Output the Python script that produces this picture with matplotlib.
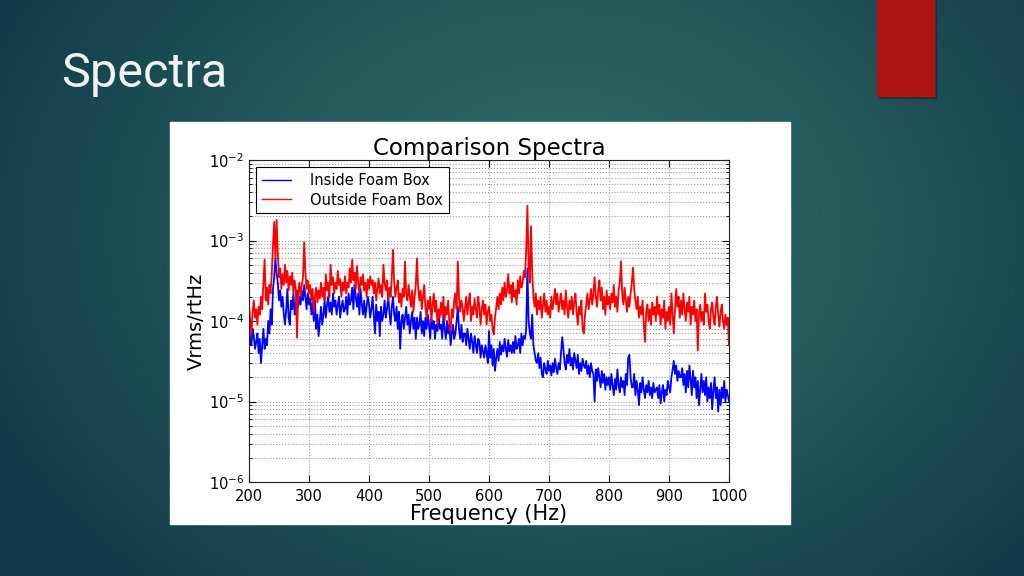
import numpy as np
import matplotlib
matplotlib.use('Agg')
import matplotlib.pyplot as plt
from matplotlib.patches import Rectangle

# frequency axis (Hz), one sample every 2 Hz
freq = np.arange(200, 1001, 2)

# amplitudes, in units of 1e-5 Vrms/rtHz
outside = [
    16, 10, 7, 13, 18, 11, 14, 9, 15, 12,
    20, 14, 30, 58, 18, 26, 16, 28, 22, 40,
    90, 170, 60, 180, 70, 35, 45, 25, 38, 28,
    50, 30, 42, 24, 36, 28, 40, 22, 32, 25,
    6.2, 22, 30, 20, 28, 35, 95, 40, 25, 32,
    22, 28, 18, 25, 13, 20, 26, 17, 24, 19,
    30, 20, 26, 18, 38, 24, 30, 20, 50, 28,
    35, 22, 30, 25, 42, 28, 33, 20, 30, 24,
    36, 22, 30, 26, 45, 30, 58, 32, 40, 25,
    48, 30, 22, 35, 28, 38, 24, 30, 20, 33,
    25, 36, 28, 32, 22, 30, 18, 26, 34, 22,
    28, 20, 50, 30, 24, 32, 18, 26, 20, 35,
    77, 30, 20, 26, 32, 17, 22, 15, 25, 20,
    55, 22, 18, 28, 20, 15, 24, 13, 20, 28,
    60, 25, 18, 24, 14, 20, 28, 15, 11, 18,
    14, 20, 10, 16, 22, 13, 18, 9, 14, 11,
    17, 12, 20, 10, 15, 12, 18, 9, 7.5, 14,
    11, 18, 22, 14, 55, 20, 13, 18, 15, 10,
    14, 20, 12, 17, 22, 10, 15, 12, 19, 14,
    11, 20, 15, 9, 14, 18, 12, 16, 9, 13,
    15, 10, 12, 8, 6.8, 11, 15, 20, 14, 22,
    16, 26, 18, 30, 20, 24, 38, 22, 28, 17,
    30, 20, 24, 16, 32, 22, 36, 26, 30, 42,
    35, 80, 270, 50, 30, 150, 40, 20, 15, 22,
    12, 18, 14, 20, 11, 16, 22, 13, 18, 12,
    15, 11, 20, 14, 18, 25, 16, 22, 13, 17,
    22, 14, 18, 12, 24, 15, 11, 18, 14, 20,
    12, 17, 22, 13, 9, 15, 12, 18, 8, 7,
    12, 16, 22, 14, 18, 25, 16, 22, 35, 20,
    15, 24, 32, 18, 26, 14, 20, 12, 24, 16,
    20, 14, 22, 17, 28, 15, 20, 13, 24, 30,
    55, 22, 16, 26, 18, 13, 20, 15, 22, 30,
    46, 25, 18, 14, 20, 11, 15, 12, 18, 9,
    5.5, 13, 16, 10, 14, 9, 17, 12, 15, 10,
    20, 12, 16, 9, 14, 11, 18, 8, 13, 10,
    15, 9, 22, 12, 7, 14, 25, 15, 20, 11,
    18, 12, 22, 14, 10, 17, 13, 20, 9, 15,
    12, 18, 10, 14, 4.3, 12, 16, 10, 13, 9,
    22, 13, 16, 10, 8, 14, 17, 11, 9, 15,
    20, 12, 8.5, 13, 16, 10, 8, 12, 9, 11,
    5,
]
inside = [
    9, 6, 5, 8, 6.5, 4.5, 5.5, 7, 4, 6,
    3, 5, 8, 4.5, 6, 5, 10, 7, 14, 9,
    25, 35, 60, 40, 30, 18, 24, 15, 20, 12,
    9, 14, 25, 11, 9, 18, 14, 22, 12, 16,
    24, 15, 20, 16, 24, 18, 28, 20, 14, 22,
    16, 19, 12, 17, 10, 18, 8, 12, 6.5, 10,
    15, 9, 12, 18, 11, 16, 20, 13, 17, 12,
    22, 15, 18, 12, 16, 20, 11, 15, 18, 13,
    14, 20, 12, 22, 16, 18, 26, 14, 28, 20,
    15, 22, 12, 25, 16, 12, 18, 11, 15, 20,
    16, 11, 14, 20, 12, 7, 16, 10, 13, 6.5,
    15, 10, 12, 18, 11, 14, 20, 13, 9, 15,
    20, 12, 10, 15, 8, 13, 4.5, 10, 12, 8,
    11, 15, 9, 12, 7, 10, 13, 8, 11, 6,
    11, 8, 9, 13, 7, 10, 6.5, 11, 8, 12,
    9, 6, 11, 8, 10, 6, 9, 7.5, 12, 8,
    9, 6, 12, 8, 6, 10, 7, 9, 5, 7,
    9, 6, 7, 10, 15, 8, 6, 9, 5.5, 7,
    7, 5, 8, 6, 4.5, 7, 5.5, 4, 6.5, 5,
    4, 6, 5.5, 3.5, 5, 4.2, 3.5, 5, 4, 3,
    7.5, 3.5, 5, 2.8, 4.5, 2.4, 3.5, 4.5, 3.2, 5.5,
    3.8, 5, 4.2, 6, 4.5, 3.6, 5.8, 4.2, 5, 4,
    5.5, 4, 6.5, 4.5, 5, 6, 4, 7, 5, 6.5,
    6, 8, 45, 10, 7, 6, 12, 5, 4, 3.2,
    3, 4, 2.6, 3.5, 2.2, 2, 3, 2.5, 2.2, 3.2,
    2.4, 2.8, 2.1, 3, 2.3, 3.4, 2.6, 2.2, 3, 2.5,
    4, 6.3, 4.5, 3, 2.5, 3.8, 3, 4.5, 2.8, 3.5,
    2.5, 4, 3.2, 2.6, 3.8, 2.2, 3, 2.4, 3.4, 2.8,
    2.6, 3.2, 2.2, 2.8, 2, 3, 2.4, 2.2, 1.0, 2.5,
    1.8, 2.6, 2, 1.5, 2.4, 1.7, 2.2, 1.4, 2, 1.6,
    2, 1.4, 2.2, 1.6, 1.2, 1.9, 1.4, 2.5, 1.6, 1.3,
    2, 1.5, 1.8, 1.2, 2.2, 1.6, 3.5, 3.8, 2, 1.5,
    1.5, 2.2, 1.2, 1.8, 1.4, 0.9, 1.7, 1.3, 2, 1.4,
    1.1, 1.6, 1.3, 1.8, 1.2, 1.5, 1.1, 1.7, 1.3, 1.4,
    1.5, 1.1, 1.6, 0.95, 1.3, 1.6, 1.0, 1.4, 1.2, 1.8,
    1.5, 1.3, 2.0, 2.5, 3.2, 2.2, 2.8, 1.8, 2.4, 2,
    2, 2.6, 1.6, 2.2, 1.3, 2.4, 1.5, 2.8, 1.9, 1.2,
    2.4, 1.5, 2, 1.1, 1.8, 0.9, 1.4, 2.2, 1.3, 1.8,
    1.2, 2, 1.0, 1.5, 1.1, 1.7, 0.8, 1.4, 2, 1.1,
    1.5, 0.75, 1.4, 0.9, 1.5, 1.1, 1.8, 1.0, 1.4, 1.2,
    1.0,
]
labels = ["Inside Foam Box", "Outside Foam Box"]

W, H = 1024, 576
fig = plt.figure(figsize=(W / 100, H / 100), dpi=100)

# slide background: soft radial teal gradient
bg = fig.add_axes([0, 0, 1, 1])
yy, xx = np.mgrid[0:H, 0:W]
r = np.sqrt(((xx - 560) / 620.0) ** 2 + ((yy - 230) / 480.0) ** 2)
t = np.clip(r, 0, 1) ** 1.3
c0 = np.array([0x30, 0x6c, 0x66]) / 255.0
c1 = np.array([0x12, 0x3a, 0x4a]) / 255.0
img = c0[None, None, :] * (1 - t[..., None]) + c1[None, None, :] * t[..., None]
bg.imshow(img, extent=[0, W, H, 0], aspect='auto')
bg.set_xlim(0, W)
bg.set_ylim(H, 0)
bg.axis('off')

# red accent bar + slide title
bg.add_patch(Rectangle((879, 0), 57, 98, color='#0d2a33', alpha=0.5))
bg.add_patch(Rectangle((877, 0), 57, 96, color='#ae1512'))
bg.text(61, 87, "Spectra", color='#eef4f2', fontsize=35, family=['Roboto', 'DejaVu Sans'],
        va='baseline', ha='left')

# white box holding the pasted chart
bg.add_patch(Rectangle((170, 122), 620, 402, color='white'))

ax = fig.add_axes([249 / W, 1 - 482 / H, 480 / W, 322 / H])
ax.plot(freq, np.array(inside) * 1e-5, color='blue', lw=1.3, label=labels[0])
ax.plot(freq, np.array(outside) * 1e-5, color='red', lw=1.3, label=labels[1])
ax.set_yscale('log')
ax.set_xlim(200, 1000)
ax.set_ylim(1e-6, 1e-2)
ax.set_xticks(range(200, 1001, 100))
ax.grid(True, which='major', ls=':', color='#999999', lw=0.8)
ax.grid(True, which='minor', axis='y', ls=':', color='#999999', lw=0.8)
ax.tick_params(which='both', direction='in', top=True, right=True, labelsize=10.5)
ax.tick_params(which='major', length=5)
ax.tick_params(which='minor', length=2.5)
ax.tick_params(axis='x', pad=5)
for s in ax.spines.values():
    s.set_color('#222222')
ax.set_title("Comparison Spectra", fontsize=16.5, pad=3)
ax.set_xlabel("Frequency (Hz)", fontsize=15, labelpad=0)
ax.set_ylabel("Vrms/rtHz", fontsize=14, labelpad=2)
leg = ax.legend(loc='upper left', fontsize=10.5, fancybox=False, edgecolor='black',
                borderaxespad=0.5, handlelength=2.0, handletextpad=1.3, framealpha=1,
                labelspacing=0.3)
leg.get_frame().set_linewidth(0.8)
for ln in leg.get_lines():
    ln.set_linewidth(1.0)

fig.savefig('out.png', dpi=100)
